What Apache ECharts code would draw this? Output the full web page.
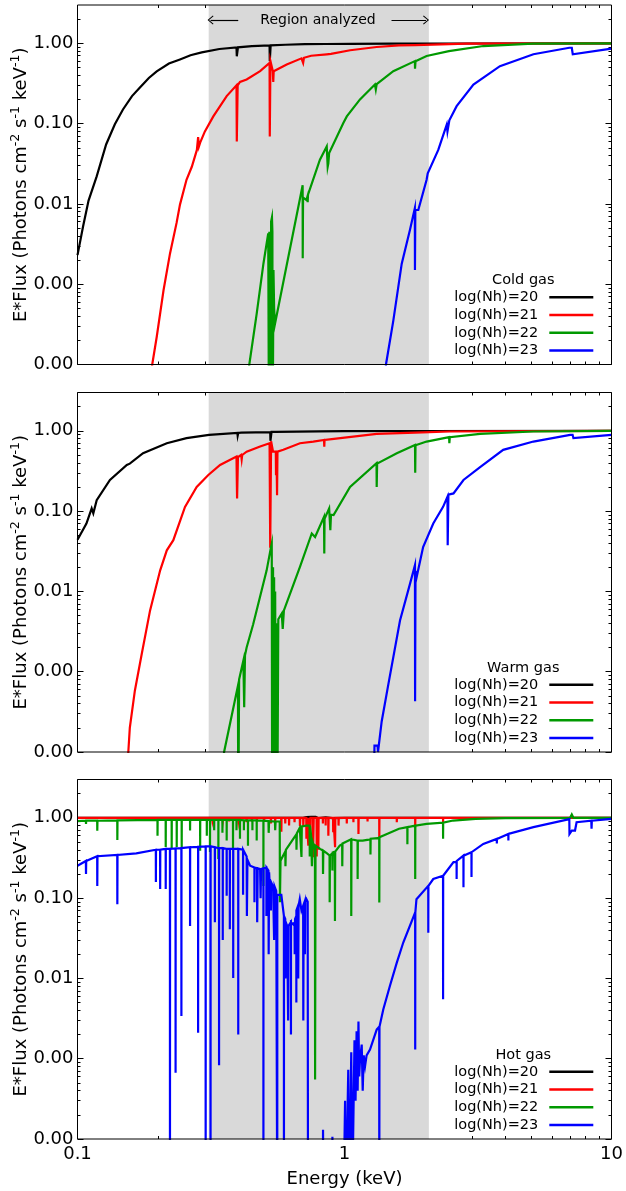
<!DOCTYPE html>
<html><head><meta charset="utf-8">
<script src="https://cdn.jsdelivr.net/npm/echarts@6/dist/echarts.min.js"></script>
<style>html,body{margin:0;padding:0;background:#fff}#c{width:626px;height:1191px}</style>
</head><body><div id="c"></div>
<script>
// ---------- data ----------
const seriesNames = ['log(Nh)=20','log(Nh)=21','log(Nh)=22','log(Nh)=23'];
const panelTitles = ['Cold gas','Warm gas','Hot gas'];
const seriesColors = ['#000000','#ff0000','#009900','#0000ff'];
const xMajorTicks = [0.1, 1, 10];
const xMinorTicks = [0.2,0.3,0.4,0.5,0.6,0.7,0.8,0.9,2,3,4,5,6,7,8,9];
const yMajorTicks = [0.0001, 0.001, 0.01, 0.1, 1];
const yMinorTicks = [0.0002,0.0003,0.0004,0.0005,0.0006,0.0007,0.0008,0.0009,
  0.002,0.003,0.004,0.005,0.006,0.007,0.008,0.009,
  0.02,0.03,0.04,0.05,0.06,0.07,0.08,0.09,
  0.2,0.3,0.4,0.5,0.6,0.7,0.8,0.9,2];
const regionRange = [0.31, 2.07];
const regionArrowLeft = [[0.40, 1.95], [0.315, 1.95]];
const regionArrowRight = [[1.5, 1.95], [2.02, 1.95]];

// Cold gas
const cold20 = [[0.1,0.0023],[0.105,0.0053],[0.11,0.011],[0.118,0.022],[0.128,0.055],[0.138,0.098],[0.148,0.15],[0.16,0.22],[0.171,0.28],[0.185,0.37],[0.198,0.447],[0.22,0.56],[0.242,0.63],[0.265,0.71],[0.292,0.77],[0.34,0.85],[0.394,0.89],[0.395,0.69],[0.398,0.69],[0.399,0.89],[0.45,0.92],[0.524,0.94],[0.525,0.6],[0.528,0.6],[0.529,0.945],[0.6,0.96],[0.71,0.975],[0.85,0.98],[1.05,0.985],[1.5,0.99],[2.1,0.995],[10,1.0]];
const cold21 = [[0.189,0.00008],[0.1905,0.0001],[0.198,0.00022],[0.21,0.00084],[0.222,0.0024],[0.235,0.0058],[0.242,0.0098],[0.256,0.02],[0.268,0.029],[0.28,0.047],[0.283,0.068],[0.285,0.052],[0.288,0.058],[0.30,0.08],[0.3226,0.123],[0.362,0.22],[0.394,0.3],[0.395,0.06],[0.397,0.06],[0.398,0.3],[0.406,0.33],[0.43,0.355],[0.483,0.45],[0.524,0.57],[0.525,0.069],[0.527,0.069],[0.528,0.6],[0.537,0.58],[0.539,0.45],[0.541,0.33],[0.543,0.45],[0.55,0.47],[0.6075,0.546],[0.69,0.65],[0.70,0.57],[0.705,0.66],[0.75,0.7],[0.858,0.73],[0.87,0.7],[0.89,0.74],[1.05,0.82],[1.32,0.9],[1.325,0.86],[1.33,0.9],[1.6,0.94],[1.84,0.952],[1.845,0.92],[1.85,0.952],[2.87,0.99],[10,1.0]];
const cold22 = [[0.435,0.00007],[0.44,0.0001],[0.469,0.00043],[0.497,0.0018],[0.518,0.0043],[0.521,0.0045],[0.5215,0.00001],[0.5225,0.00001],[0.523,0.0045],[0.527,0.003],[0.528,0.00001],[0.530,0.00001],[0.531,0.006],[0.535,0.0068],[0.537,0.0045],[0.538,0.00001],[0.541,0.00001],[0.542,0.0015],[0.545,0.0005],[0.549,0.00032],[0.697,0.0171],[0.6975,0.0021],[0.699,0.0021],[0.6995,0.012],[0.72,0.0112],[0.726,0.0123],[0.728,0.0105],[0.73,0.013],[0.809,0.0355],[0.858,0.052],[0.862,0.055],[0.865,0.029],[0.87,0.032],[0.876,0.043],[0.99,0.102],[1.02,0.123],[1.143,0.2],[1.30,0.307],[1.31,0.266],[1.32,0.31],[1.523,0.45],[1.835,0.6],[1.837,0.483],[1.842,0.483],[1.845,0.6],[2.03,0.694],[2.46,0.8],[2.47,0.77],[2.48,0.8],[3.31,0.925],[5.08,0.99],[10,1.0]];
const cold23 = [[1.42,0.00007],[1.43,0.0001],[1.523,0.00035],[1.638,0.0018],[1.76,0.0048],[1.834,0.0088],[1.836,0.0015],[1.84,0.0015],[1.842,0.0084],[1.89,0.0084],[2.03,0.02],[2.05,0.024],[2.245,0.047],[2.415,0.097],[2.43,0.08],[2.45,0.083],[2.47,0.11],[2.63,0.165],[3.04,0.307],[3.82,0.52],[5.1,0.73],[6.95,0.88],[7.1,0.88],[7.16,0.73],[10,0.86]];

// Warm gas
const warm20 = [[0.1,0.044],[0.108,0.07],[0.113,0.108],[0.1146,0.094],[0.118,0.137],[0.1323,0.244],[0.153,0.376],[0.155,0.36],[0.157,0.39],[0.176,0.526],[0.216,0.70],[0.256,0.81],[0.311,0.89],[0.397,0.94],[0.398,0.87],[0.40,0.94],[0.41,0.95],[0.412,0.9],[0.414,0.95],[0.527,0.965],[0.528,0.75],[0.532,0.75],[0.533,0.97],[0.55,0.97],[0.552,0.92],[0.555,0.97],[0.8,0.985],[1.0,0.99],[2.0,0.995],[10,1.0]];
const warm21 = [[0.154,0.00007],[0.155,0.0001],[0.157,0.0002],[0.164,0.00058],[0.174,0.00166],[0.187,0.0058],[0.204,0.0183],[0.216,0.0325],[0.2285,0.0434],[0.2527,0.113],[0.2795,0.2],[0.309,0.282],[0.342,0.376],[0.394,0.477],[0.395,0.25],[0.396,0.144],[0.398,0.144],[0.399,0.47],[0.41,0.5],[0.412,0.44],[0.414,0.5],[0.43,0.55],[0.483,0.636],[0.524,0.70],[0.526,0.72],[0.527,0.035],[0.530,0.035],[0.531,0.74],[0.538,0.70],[0.54,0.55],[0.553,0.55],[0.554,0.28],[0.556,0.55],[0.558,0.55],[0.559,0.158],[0.561,0.55],[0.565,0.56],[0.59,0.58],[0.681,0.70],[0.764,0.735],[0.838,0.77],[0.84,0.636],[0.842,0.77],[0.896,0.787],[1.32,0.917],[1.322,0.88],[1.325,0.917],[1.84,0.95],[1.842,0.9],[1.845,0.95],[2.49,0.98],[10,1.0]];
const warm22 = [[0.352,0.00007],[0.354,0.0001],[0.399,0.00067],[0.4,0.00001],[0.402,0.00001],[0.403,0.0008],[0.418,0.00137],[0.42,0.00137],[0.421,0.00036],[0.423,0.00036],[0.424,0.0016],[0.43,0.002],[0.455,0.0039],[0.511,0.0183],[0.53,0.035],[0.534,0.0394],[0.536,0.00001],[0.54,0.02],[0.542,0.00001],[0.545,0.015],[0.548,0.00001],[0.55,0.01],[0.553,0.00001],[0.557,0.004],[0.56,0.00001],[0.565,0.0045],[0.582,0.0053],[0.587,0.0034],[0.593,0.0058],[0.681,0.0202],[0.754,0.0527],[0.776,0.0476],[0.838,0.085],[0.84,0.0296],[0.842,0.08],[0.876,0.108],[0.885,0.058],[0.89,0.09],[0.91,0.089],[1.049,0.2],[1.318,0.395],[1.32,0.2],[1.325,0.39],[1.57,0.526],[1.837,0.668],[1.84,0.301],[1.845,0.66],[2.03,0.735],[2.465,0.834],[2.47,0.7],[2.48,0.834],[3.22,0.917],[5.1,0.98],[10,1.0]];
const warm23 = [[1.29,0.00005],[1.295,0.00012],[1.33,0.00012],[1.335,0.0001],[1.378,0.00024],[1.46,0.0007],[1.614,0.00434],[1.76,0.0125],[1.836,0.0212],[1.838,0.00043],[1.842,0.00043],[1.845,0.018],[1.863,0.0151],[1.97,0.0357],[2.15,0.0702],[2.34,0.113],[2.43,0.151],[2.435,0.0375],[2.445,0.0375],[2.45,0.16],[2.56,0.166],[2.79,0.244],[3.22,0.352],[3.93,0.579],[5.1,0.735],[7.0,0.891],[7.15,0.891],[7.2,0.81],[10,0.891]];

// Hot gas
const hot20 = [[0.1,1.0],[0.5,1.0],[0.7,1.0],[0.72,1.02],[0.73,0.99],[0.75,1.03],[0.76,0.99],[0.78,1.025],[0.8,0.99],[0.85,1.015],[0.9,0.99],[1.0,1.0],[10,1.0]];
const hot21 = [[0.1,1.0],[0.215,1.0],[0.216,0.96],[0.217,1.0],[0.304,1.0],[0.305,0.96],[0.306,1.0],[0.319,1.0],[0.32,0.93],[0.321,1.0],[0.349,1.0],[0.35,0.92],[0.351,1.0],[0.369,1.0],[0.37,0.9],[0.371,1.0],[0.399,1.0],[0.4,0.93],[0.401,1.0],[0.429,1.0],[0.43,0.88],[0.431,1.0],[0.449,1.0],[0.45,0.9],[0.451,1.0],[0.469,1.0],[0.47,0.93],[0.471,1.0],[0.499,1.0],[0.5,0.9],[0.501,1.0],[0.529,1.0],[0.53,0.85],[0.531,1.0],[0.549,1.0],[0.55,0.9],[0.551,1.0],[0.579,1.0],[0.58,0.67],[0.581,1.0],[0.599,1.0],[0.6,0.85],[0.601,1.0],[0.619,1.0],[0.62,0.8],[0.621,1.0],[0.649,1.0],[0.65,0.88],[0.651,1.0],[0.68,1.0],[0.681,0.79],[0.683,1.0],[0.70,1.0],[0.701,0.79],[0.703,1.0],[0.719,1.0],[0.72,0.547],[0.722,1.0],[0.73,1.0],[0.732,0.45],[0.734,1.0],[0.742,1.0],[0.744,0.6],[0.746,1.0],[0.761,1.0],[0.762,0.323],[0.766,0.33],[0.767,1.0],[0.786,1.0],[0.787,0.33],[0.789,1.0],[0.797,1.0],[0.798,0.4],[0.8,1.0],[0.829,1.0],[0.83,0.85],[0.831,1.0],[0.849,1.0],[0.85,0.8],[0.851,1.0],[0.869,1.0],[0.87,0.6],[0.872,1.0],[0.906,1.0],[0.907,0.66],[0.909,1.0],[0.921,1.0],[0.922,0.43],[0.924,1.0],[0.949,1.0],[0.95,0.8],[0.952,1.0],[1.019,1.0],[1.02,0.85],[1.021,1.0],[1.079,1.0],[1.08,0.88],[1.081,1.0],[1.127,1.0],[1.128,0.63],[1.13,1.0],[1.219,1.0],[1.22,0.9],[1.221,1.0],[1.349,1.0],[1.35,0.574],[1.352,1.0],[1.569,1.0],[1.57,0.88],[1.572,1.0],[1.839,1.0],[1.84,0.765],[1.842,1.0],[2.339,1.0],[2.34,0.88],[2.342,1.0],[10,1.0]];
const hot22 = [[0.1,0.91],[0.1075,0.92],[0.1076,0.84],[0.1078,0.92],[0.1185,0.92],[0.1186,0.69],[0.1188,0.92],[0.1409,0.93],[0.141,0.53],[0.1412,0.93],[0.1993,0.94],[0.1994,0.6],[0.1996,0.94],[0.2139,0.94],[0.214,0.434],[0.2142,0.94],[0.2252,0.94],[0.2253,0.41],[0.2255,0.94],[0.2352,0.94],[0.2353,0.434],[0.2355,0.94],[0.2455,0.94],[0.2456,0.41],[0.2458,0.94],[0.2639,0.94],[0.264,0.694],[0.2642,0.94],[0.2879,0.94],[0.288,0.39],[0.2882,0.94],[0.3049,0.94],[0.305,0.6],[0.3052,0.94],[0.3134,0.94],[0.3135,0.376],[0.3137,0.94],[0.3249,0.94],[0.325,0.7],[0.3252,0.94],[0.3369,0.94],[0.337,0.307],[0.3372,0.94],[0.3489,0.94],[0.349,0.65],[0.3492,0.94],[0.3619,0.94],[0.362,0.52],[0.3622,0.94],[0.3822,0.94],[0.3823,0.41],[0.3825,0.94],[0.3939,0.94],[0.394,0.7],[0.3942,0.94],[0.4059,0.94],[0.406,0.547],[0.4062,0.94],[0.4199,0.93],[0.42,0.7],[0.4202,0.93],[0.4349,0.93],[0.435,0.45],[0.4352,0.93],[0.4519,0.93],[0.452,0.7],[0.4522,0.93],[0.4689,0.93],[0.469,0.52],[0.4692,0.93],[0.4969,0.92],[0.497,0.142],[0.4972,0.92],[0.519,0.91],[0.52,0.65],[0.522,0.91],[0.549,0.9],[0.55,0.7],[0.552,0.9],[0.572,0.9],[0.573,0.089],[0.575,0.2],[0.576,0.293],[0.6,0.38],[0.601,0.25],[0.603,0.4],[0.643,0.546],[0.66,0.62],[0.661,0.4],[0.663,0.64],[0.68,0.75],[0.689,0.78],[0.69,0.325],[0.692,0.78],[0.72,0.8],[0.74,0.8],[0.741,0.33],[0.743,0.78],[0.75,0.6],[0.755,0.25],[0.76,0.5],[0.775,0.4],[0.776,0.00055],[0.778,0.00055],[0.779,0.45],[0.79,0.45],[0.81,0.41],[0.83,0.39],[0.831,0.2],[0.833,0.39],[0.86,0.36],[0.879,0.34],[0.88,0.089],[0.882,0.34],[0.9,0.36],[0.901,0.22],[0.903,0.37],[0.92,0.38],[0.921,0.052],[0.923,0.38],[0.96,0.45],[0.98,0.47],[0.981,0.25],[0.983,0.48],[1.0,0.5],[1.059,0.54],[1.06,0.06],[1.062,0.54],[1.119,0.52],[1.12,0.173],[1.122,0.52],[1.17,0.52],[1.25,0.54],[1.251,0.35],[1.253,0.55],[1.349,0.56],[1.35,0.088],[1.352,0.574],[1.6,0.73],[1.719,0.765],[1.72,0.47],[1.722,0.765],[1.839,0.8],[1.84,0.173],[1.842,0.8],[2.03,0.84],[2.339,0.87],[2.34,0.547],[2.342,0.87],[2.55,0.925],[3.1,0.97],[4.0,0.99],[7.0,1.0],[7.1,1.1],[7.2,1.0],[10,1.0]];
const hot23 = [[0.1,0.253],[0.1075,0.29],[0.1076,0.2],[0.1078,0.29],[0.1185,0.332],[0.1186,0.142],[0.1188,0.332],[0.1409,0.345],[0.141,0.084],[0.1412,0.345],[0.166,0.36],[0.1965,0.40],[0.1966,0.159],[0.1968,0.40],[0.2039,0.40],[0.204,0.13],[0.2042,0.40],[0.2139,0.41],[0.214,0.13],[0.2142,0.41],[0.2219,0.41],[0.222,0.00001],[0.2222,0.41],[0.2329,0.415],[0.233,0.00067],[0.2332,0.415],[0.2449,0.42],[0.245,0.0034],[0.2452,0.42],[0.2639,0.43],[0.264,0.045],[0.2642,0.43],[0.2829,0.435],[0.283,0.0021],[0.2832,0.435],[0.3019,0.44],[0.302,0.00001],[0.3022,0.44],[0.3149,0.44],[0.315,0.00001],[0.3152,0.44],[0.3269,0.43],[0.327,0.05],[0.3272,0.43],[0.3389,0.42],[0.339,0.00083],[0.3392,0.42],[0.3499,0.42],[0.35,0.03],[0.3502,0.42],[0.3619,0.41],[0.362,0.107],[0.3622,0.41],[0.3719,0.41],[0.372,0.041],[0.3722,0.41],[0.3829,0.41],[0.383,0.0101],[0.3832,0.41],[0.3999,0.41],[0.4,0.002],[0.4002,0.41],[0.4169,0.40],[0.417,0.11],[0.4172,0.40],[0.43,0.33],[0.431,0.06],[0.433,0.3],[0.443,0.253],[0.4599,0.24],[0.46,0.089],[0.4602,0.24],[0.47,0.235],[0.471,0.05],[0.473,0.235],[0.483,0.23],[0.485,0.1],[0.487,0.23],[0.4969,0.235],[0.497,0.00001],[0.4972,0.235],[0.5099,0.24],[0.51,0.06],[0.5102,0.24],[0.519,0.22],[0.52,0.02],[0.522,0.21],[0.5299,0.2],[0.53,0.07],[0.5302,0.16],[0.54,0.14],[0.545,0.03],[0.547,0.14],[0.555,0.123],[0.5599,0.12],[0.56,0.00001],[0.5602,0.11],[0.58,0.11],[0.593,0.06],[0.5932,0.00001],[0.5934,0.06],[0.6,0.055],[0.601,0.01],[0.603,0.05],[0.61,0.045],[0.615,0.003],[0.617,0.045],[0.63,0.05],[0.6302,0.002],[0.6304,0.05],[0.643,0.047],[0.65,0.05],[0.651,0.02],[0.653,0.055],[0.66,0.06],[0.6602,0.005],[0.6604,0.07],[0.67,0.08],[0.671,0.01],[0.673,0.08],[0.68,0.097],[0.69,0.07],[0.70,0.08],[0.701,0.003],[0.703,0.08],[0.71,0.09],[0.711,0.02],[0.713,0.09],[0.72,0.097],[0.728,0.09],[0.73,0.00001],[0.83,0.00001],[0.831,0.00013],[0.834,0.00001],[0.90,0.00001],[0.901,0.000107],[0.904,0.00001],[0.99,0.00001],[1.005,0.0003],[1.01,0.00001],[1.033,0.00073],[1.04,0.00001],[1.06,0.0012],[1.07,0.00002],[1.09,0.0017],[1.1,0.0003],[1.11,0.0022],[1.12,0.0004],[1.128,0.0029],[1.135,0.0006],[1.143,0.00097],[1.16,0.0015],[1.17,0.0004],[1.18,0.0011],[1.194,0.00081],[1.21,0.0011],[1.246,0.0013],[1.32,0.0023],[1.349,0.0025],[1.35,0.00001],[1.352,0.0025],[1.397,0.0041],[1.48,0.0081],[1.57,0.0157],[1.66,0.028],[1.839,0.066],[1.84,0.0013],[1.842,0.066],[1.86,0.097],[2.059,0.142],[2.06,0.037],[2.062,0.142],[2.15,0.173],[2.339,0.19],[2.34,0.0055],[2.342,0.19],[2.56,0.28],[2.629,0.28],[2.63,0.173],[2.632,0.29],[2.789,0.338],[2.79,0.137],[2.792,0.338],[2.989,0.373],[2.99,0.183],[2.992,0.373],[3.31,0.473],[3.719,0.546],[3.72,0.48],[3.722,0.546],[4.109,0.631],[4.11,0.52],[4.112,0.631],[5.1,0.765],[6.95,0.96],[6.96,0.63],[7.1,0.694],[7.3,0.694],[7.4,0.88],[8.4,0.92],[8.42,0.73],[8.44,0.92],[10,0.97]];

const panels = [[cold20,cold21,cold22,cold23],[warm20,warm21,warm22,warm23],[hot20,hot21,hot22,hot23]];

// ---------- layout ----------
const FONT = 'DejaVu Sans';
const gridLeft = 77.5, gridWidth = 534, gridHeight = 359.5;
const gridTops = [5, 392.5, 779.5];

const chart = echarts.init(document.getElementById('c'), null, {renderer:'canvas'});

const grids = [], xAxes = [], yAxes = [], series = [], legends = [], graphics = [];

function xAxisDef(gi, pos, major) {
  const labelled = major && pos === 'bottom' && gi === 2;
  return {
    type:'log', logBase:10, gridIndex:gi, min:0.1, max:10, position:pos, z:0,
    axisLine:{show:false, onZero:false}, splitLine:{show:false}, minorTick:{show:false},
    axisTick:{show:true, inside:true, length: major ? 6 : 3, customValues: major ? xMajorTicks : xMinorTicks,
      lineStyle:{color:'#000', width:1}},
    axisLabel:{show: labelled, customValues: xMajorTicks, color:'#000', fontSize:18, fontFamily:FONT, margin:6,
      formatter: v => (v < 1 ? v.toFixed(1) : v.toFixed(0))},
    name: labelled ? 'Energy (keV)' : '', nameLocation:'middle', nameGap:31, nameMoveOverlap:false,
    nameTextStyle:{color:'#000', fontSize:18, fontFamily:FONT}
  };
}
function yAxisDef(gi, pos, major) {
  const labelled = major && pos === 'left';
  return {
    type:'log', logBase:10, gridIndex:gi, min:0.0001, max:3, position:pos, z:0,
    axisLine:{show:false, onZero:false}, splitLine:{show:false}, minorTick:{show:false},
    axisTick:{show:true, inside:true, length: major ? 6 : 3, customValues: major ? yMajorTicks : yMinorTicks,
      lineStyle:{color:'#000', width:1}},
    axisLabel:{show: labelled, customValues: yMajorTicks, color:'#000', fontSize:18, fontFamily:FONT, margin:4,
      formatter: v => v.toFixed(2)},
    name: labelled ? '{a|E*Flux (Photons cm}{s|-2}{a| s}{s|-1}{a| keV}{s|-1}{a|)}' : '',
    nameLocation:'middle', nameGap:44, nameMoveOverlap:false,
    nameTextStyle:{color:'#000', fontFamily:FONT,
      rich:{a:{fontSize:18, lineHeight:24, fontFamily:FONT, color:'#000'},
            s:{fontSize:12.6, lineHeight:14, verticalAlign:'top', fontFamily:FONT, color:'#000'}}}
  };
}

const chevron = 'path://M0,0 L6,8 L5,9 L0,2.2 L-5,9 L-6,8 Z';

for (let p = 0; p < 3; p++) {
  grids.push({left:gridLeft, top:gridTops[p], width:gridWidth, height:gridHeight,
    show:true, borderColor:'#000', borderWidth:1, backgroundColor:'transparent', z:5, outerBoundsMode:'none'});
  const base = xAxes.length;
  xAxes.push(xAxisDef(p,'bottom',true), xAxisDef(p,'bottom',false), xAxisDef(p,'top',true), xAxisDef(p,'top',false));
  yAxes.push(yAxisDef(p,'left',true), yAxisDef(p,'left',false), yAxisDef(p,'right',true), yAxisDef(p,'right',false));

  const shade = {
    type:'line', name:'region'+p, xAxisIndex:base, yAxisIndex:base, data:[], z:1, silent:true,
    symbol:'none', animation:false,
    markArea:{silent:true, itemStyle:{color:'#d9d9d9'}, label:{show:false},
      data:[[{xAxis:regionRange[0]},{xAxis:regionRange[1]}]]}
  };
  if (p === 0) {
    shade.markLine = {silent:true, symbol:['none', chevron], symbolSize:[9,6], label:{show:false},
      lineStyle:{color:'#000', width:1.2, type:'solid'}, animation:false,
      data:[[{coord:regionArrowLeft[0]},{coord:regionArrowLeft[1]}],[{coord:regionArrowRight[0]},{coord:regionArrowRight[1]}]]};
  }
  series.push(shade);

  for (let k = 0; k < 4; k++) {
    series.push({type:'line', name:seriesNames[k], xAxisIndex:base, yAxisIndex:base, data:panels[p][k],
      symbol:'none', showSymbol:false, z:2, animation:false, clip:true,
      lineStyle:{color:seriesColors[k], width:2.2, join:'miter'}, itemStyle:{color:seriesColors[k]}});
  }

  legends.push({orient:'vertical', right:32.7, top:gridTops[p] + 283.5, align:'right', icon:'rect',
    itemWidth:44, itemHeight:2.5, itemGap:0, padding:0, selectedMode:false, data:seriesNames,
    textStyle:{fontSize:14.5, fontFamily:FONT, color:'#000', lineHeight:17.7, padding:[0,6,0,0]}});

  graphics.push({type:'text', x:523.3, y:gridTops[p] + 275.3, z:10,
    style:{text:panelTitles[p], fill:'#000', font:'14.5px "DejaVu Sans"', align:'center', verticalAlign:'middle'}});
}
graphics.push({type:'text', x:318, y:20.5, z:10,
  style:{text:'Region analyzed', fill:'#000', font:'14px "DejaVu Sans"', align:'center', verticalAlign:'middle'}});

chart.setOption({
  animation:false,
  backgroundColor:'#fff',
  textStyle:{fontFamily:FONT},
  grid:grids, xAxis:xAxes, yAxis:yAxes, series:series, legend:legends, graphic:graphics
});
</script></body></html>
